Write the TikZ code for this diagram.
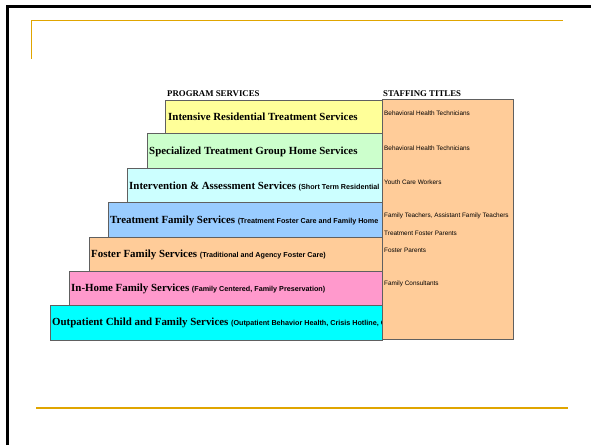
\documentclass[tikz,border=0pt]{standalone}
\usepackage{fontspec}
\setmainfont{Liberation Serif}
\newfontfamily\subfont{Liberation Sans}

\tikzset{
  stair/.style={draw=gray!75!black, line width=0.6pt},
  svc/.style={anchor=west, inner sep=0pt, font=\bfseries\fontsize{10.9}{12}\selectfont},
  staff/.style={anchor=west, inner sep=0pt, font=\subfont\fontsize{6.4}{7}\selectfont},
  head/.style={anchor=west, inner sep=0pt, font=\bfseries\fontsize{8.8}{10}\selectfont}
}
\newcommand{\svcnote}[1]{{\subfont\bfseries\fontsize{7.2}{8}\selectfont #1}}

\begin{document}
\begin{tikzpicture}[x=1pt,y=-1pt]
  \useasboundingbox (0,0) rectangle (591,445);

  % slide frame
  \draw[line width=2.8pt] (7.5,445) -- (7.5,6.5) -- (591,6.5);
  \draw[color={rgb,255:red,224;green,165;blue,0}, line width=1pt] (31,59) -- (31,20) -- (563,20);
  \draw[color={rgb,255:red,224;green,165;blue,0}, line width=1.2pt] (36,408) -- (568,408);

  % headers
  \node[head] (hprog) at (167,94) {PROGRAM SERVICES};
  \node[head] (hstaff) at (383,94) {STAFFING TITLES};

  % the stairs
  \filldraw[stair, fill={rgb,255:red,255;green,255;blue,153}] (165,100) rectangle (382,133);
  \filldraw[stair, fill={rgb,255:red,204;green,255;blue,204}] (147,133) rectangle (382,168);
  \filldraw[stair, fill={rgb,255:red,204;green,255;blue,255}] (127,168) rectangle (382,202);
  \filldraw[stair, fill={rgb,255:red,153;green,204;blue,255}] (108,202) rectangle (382,237);
  \filldraw[stair, fill={rgb,255:red,255;green,204;blue,153}] (89,237) rectangle (382,271);
  \filldraw[stair, fill={rgb,255:red,255;green,153;blue,204}] (69,271) rectangle (382,305);
  \filldraw[stair, fill={rgb,255:red,0;green,255;blue,255}] (50,305) rectangle (382,340);

  \node[svc] (irts) at (168,117) {Intensive Residential Treatment Services};
  \node[svc] (stgh) at (149,152) {Specialized Treatment Group Home Services};
  \node[svc] (ias) at (129,186) {Intervention \& Assessment Services \svcnote{(Short Term Residential}};
  \node[svc] (tfs) at (110,221) {Treatment Family Services \svcnote{(Treatment Foster Care and Family Home}};
  \node[svc] (ffs) at (91,255) {Foster Family Services \svcnote{(Traditional and Agency Foster Care)}};
  \node[svc] (ihfs) at (71,289) {In-Home Family Services \svcnote{(Family Centered, Family Preservation)}};
  \node[svc] (ocfs) at (52,323) {Outpatient Child and Family Services \svcnote{(Outpatient Behavior Health, Crisis Hotline, C}};

  % staffing column
  \filldraw[stair, fill={rgb,255:red,255;green,204;blue,153}] (382,99) rectangle (513,339);

  \node[staff] (bht1) at (384,113) {Behavioral Health Technicians};
  \node[staff] (bht2) at (384,148) {Behavioral Health Technicians};
  \node[staff] (ycw) at (384,182) {Youth Care Workers};
  \node[staff] (ft) at (384,216) {Family Teachers, Assistant Family Teachers};
  \node[staff] (tfp) at (384,233) {Treatment Foster Parents};
  \node[staff] (fp) at (384,250) {Foster Parents};
  \node[staff] (fc) at (384,284) {Family Consultants};
\end{tikzpicture}
\end{document}
